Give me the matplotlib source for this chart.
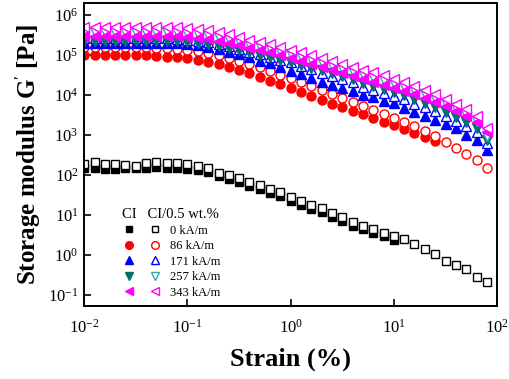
import matplotlib
matplotlib.use("Agg")
import matplotlib.pyplot as plt

plt.rcParams['font.family'] = ['Liberation Serif', 'DejaVu Serif']
plt.rcParams['mathtext.fontset'] = 'custom'
plt.rcParams['mathtext.rm'] = 'Liberation Serif'
plt.rcParams['mathtext.it'] = 'Liberation Serif:italic'
plt.rcParams['mathtext.bf'] = 'Liberation Serif:bold'
plt.rcParams['axes.unicode_minus'] = False

# strain points (%)
strain = [0.01, 0.0126, 0.0158, 0.02, 0.0251, 0.0316, 0.0398, 0.0501, 0.0631, 0.0794,
          0.1, 0.126, 0.158, 0.2, 0.251, 0.316, 0.398, 0.501, 0.631, 0.794,
          1.0, 1.26, 1.58, 2.0, 2.51, 3.16, 3.98, 5.01, 6.31, 7.94,
          10.0, 12.6, 15.8, 20.0, 25.1, 31.6, 39.8, 50.1, 63.1, 79.4]

# CI (filled symbols)
ci_0 = [150, 150, 141, 141, 150, 150, 150, 158, 150, 150,
        141, 133, 119, 94, 79, 67, 53, 45, 35, 30,
        22, 18, 14, 11.9, 8.9, 7.1, 5.3, 4.5, 3.5, 3.0, 2.4]
ci_86 = [1.0e5, 1.0e5, 1.0e5, 1.0e5, 1.0e5, 1.0e5, 1.0e5, 9.4e4, 8.9e4, 8.9e4,
         8.4e4, 7.5e4, 6.7e4, 6.0e4, 5.0e4, 4.2e4, 3.5e4, 2.8e4, 2.2e4, 1.9e4,
         1.5e4, 1.2e4, 9.4e3, 7.5e3, 6.0e3, 5.0e3, 4.0e3, 3.35e3, 2.7e3, 2.1e3,
         1.8e3, 1.4e3, 1.12e3, 890, 710]
ci_171 = [2.0e5, 2.0e5, 2.0e5, 2.0e5, 2.0e5, 2.0e5, 2.0e5, 2.0e5, 2.0e5, 2.0e5,
          1.9e5, 1.8e5, 1.6e5, 1.4e5, 1.2e5, 1.06e5, 8.9e4, 7.1e4, 6.3e4, 5.0e4,
          4.0e4, 3.35e4, 2.6e4, 2.1e4, 1.8e4, 1.5e4, 1.26e4, 1.0e4, 8.9e3, 7.1e3,
          6.3e3, 4.7e3, 3.75e3, 3.0e3, 2.4e3, 1.9e3, 1.5e3, 1.0e3, 750, 420]
ci_257 = [2.2e5, 2.2e5, 2.2e5, 2.2e5, 2.2e5, 2.2e5, 2.2e5, 2.2e5, 2.2e5, 2.2e5,
          2.1e5, 2.0e5, 1.9e5, 1.7e5, 1.5e5, 1.33e5, 1.2e5, 1.0e5, 8.9e4, 7.5e4,
          6.7e4, 5.6e4, 4.7e4, 4.2e4, 3.5e4, 3.0e4, 2.5e4, 2.0e4, 1.7e4, 1.4e4,
          1.2e4, 1.0e4, 7.9e3, 6.3e3, 5.0e3, 3.75e3, 2.8e3, 2.1e3, 1.5e3, 750]
ci_343 = [3.0e5, 3.0e5, 3.0e5, 3.0e5, 3.0e5, 3.0e5, 3.0e5, 3.0e5, 3.0e5, 3.0e5,
          2.8e5, 2.7e5, 2.5e5, 2.2e5, 2.0e5, 1.8e5, 1.5e5, 1.33e5, 1.2e5, 1.0e5,
          8.4e4, 7.1e4, 6.0e4, 5.0e4, 4.2e4, 3.5e4, 3.0e4, 2.5e4, 2.1e4, 1.8e4,
          1.5e4, 1.26e4, 1.06e4, 8.4e3, 6.7e3, 5.3e3, 4.0e3, 3.0e3, 2.1e3, 1.2e3]

# CI/0.5 wt.% (open symbols)
cia_0 = [188, 211, 188, 188, 178, 168, 200, 211, 200, 200,
         188, 168, 150, 112, 100, 84, 67, 56, 45, 38,
         28, 22, 18, 15, 11.2, 8.9, 6.7, 5.3, 4.5, 3.5,
         3.0, 2.5, 1.9, 1.4, 1.06, 0.71, 0.56, 0.45, 0.28, 0.21]
cia_86 = [1.6e5, 1.6e5, 1.6e5, 1.6e5, 1.6e5, 1.6e5, 1.6e5, 1.5e5, 1.5e5, 1.4e5,
          1.33e5, 1.26e5, 1.12e5, 1.0e5, 8.4e4, 7.1e4, 6.0e4, 5.0e4, 4.0e4, 3.2e4,
          2.7e4, 2.1e4, 1.7e4, 1.33e4, 1.06e4, 8.4e3, 6.7e3, 5.3e3, 4.2e3, 3.35e3,
          2.7e3, 2.1e3, 1.7e3, 1.26e3, 940, 670, 470, 330, 240, 150]
cia_171 = [2.7e5, 2.7e5, 2.7e5, 2.7e5, 2.7e5, 2.7e5, 2.7e5, 2.7e5, 2.7e5, 2.5e5,
           2.4e5, 2.2e5, 2.1e5, 1.9e5, 1.7e5, 1.4e5, 1.2e5, 1.06e5, 8.9e4, 7.5e4,
           6.7e4, 5.3e4, 4.5e4, 3.5e4, 3.0e4, 2.5e4, 2.1e4, 1.6e4, 1.33e4, 1.12e4,
           9.4e3, 7.9e3, 6.0e3, 5.0e3, 4.0e3, 3.0e3, 2.2e3, 1.7e3, 1.2e3, 630]
cia_257 = [3.8e5, 3.8e5, 3.8e5, 3.8e5, 3.8e5, 3.8e5, 3.8e5, 3.8e5, 3.8e5, 3.8e5,
           3.6e5, 3.35e5, 3.2e5, 2.8e5, 2.5e5, 2.2e5, 1.9e5, 1.7e5, 1.5e5, 1.26e5,
           1.06e5, 9.4e4, 7.9e4, 6.7e4, 5.6e4, 4.7e4, 4.0e4, 3.35e4, 2.8e4, 2.4e4,
           2.0e4, 1.7e4, 1.33e4, 1.06e4, 8.4e3, 6.3e3, 4.7e3, 3.35e3, 2.2e3, 950]
cia_343 = [5.0e5, 5.0e5, 5.0e5, 5.0e5, 5.0e5, 5.0e5, 5.0e5, 5.0e5, 5.0e5, 5.0e5,
           4.7e5, 4.5e5, 4.2e5, 3.75e5, 3.35e5, 2.8e5, 2.4e5, 2.1e5, 1.9e5, 1.6e5,
           1.33e5, 1.2e5, 1.0e5, 8.4e4, 7.1e4, 6.0e4, 5.0e4, 4.2e4, 3.75e4, 3.2e4,
           2.5e4, 2.1e4, 1.7e4, 1.33e4, 1.06e4, 7.9e3, 6.0e3, 4.5e3, 3.0e3, 1.5e3]

labels = ["0 kA/m", "86 kA/m", "171 kA/m", "257 kA/m", "343 kA/m"]
filled = [ci_0, ci_86, ci_171, ci_257, ci_343]
opened = [cia_0, cia_86, cia_171, cia_257, cia_343]
markers = ["s", "o", "^", "v", "<"]
fill_colors = ["black", "#ff0000", "#0000ff", "#007070", "#ff00ff"]
open_colors = ["black", "#ff0000", "#0000ff", "#3aa6a0", "#ff00ff"]
sizes = [5.5, 6.5, 6.5, 6.5, 6.5]

fig = plt.figure(figsize=(5.1, 3.79), dpi=100)
ax = fig.add_axes([0.165, 0.193, 0.81, 0.799])

h_f, h_o = [], []
for i in range(5):
    yf = filled[i]
    hf, = ax.plot(strain[:len(yf)], yf, ls="none", marker=markers[i], ms=sizes[i],
                  color=fill_colors[i], mec=fill_colors[i])
    yo = opened[i]
    ho, = ax.plot(strain[:len(yo)], yo, ls="none", marker=markers[i], ms=sizes[i],
                  mfc="white", mec=open_colors[i], mew=1.0)
    h_f.append(hf)
    h_o.append(ho)

ax.set_xscale("log")
ax.set_yscale("log")
ax.set_xlim(0.01, 100)
ax.set_ylim(0.053, 2.0e6)
ax.minorticks_off()
ax.tick_params(which="major", direction="in", length=5, width=1.2,
               labelsize=12, top=False, right=False)
ax.tick_params(axis="x", pad=9)
ax.tick_params(axis="y", pad=4)
for s in ax.spines.values():
    s.set_linewidth(1.4)

ax.set_xlabel("Strain (%)", fontsize=19, fontweight="bold", labelpad=8)
ax.set_ylabel(r"Storage modulus G$^{\prime}$ [Pa]", fontsize=18, fontweight="bold", labelpad=4)

leg = ax.legend(h_f + h_o, [""] * 5 + labels, ncol=2, loc="upper left",
                bbox_to_anchor=(0.065, 0.36), frameon=False, fontsize=9,
                handlelength=1.0, handletextpad=0.7, columnspacing=0.38,
                labelspacing=0.28, markerscale=0.85,
                title="CI   CI/0.5 wt.%", title_fontsize=10.5, alignment="left")

fig.savefig("out.png", dpi=100)
